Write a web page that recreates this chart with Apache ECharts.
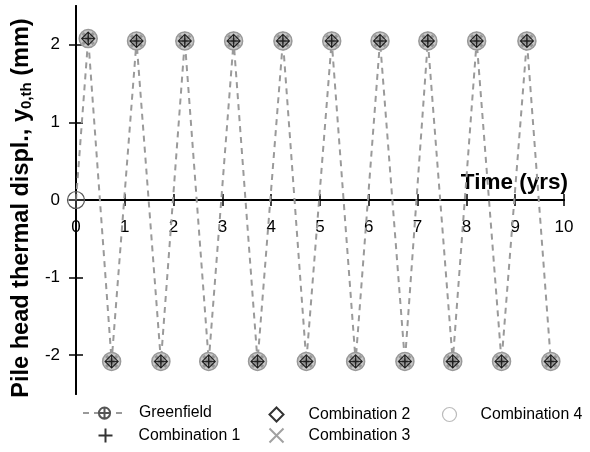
<!DOCTYPE html>
<html><head><meta charset="utf-8">
<script src="https://cdn.jsdelivr.net/npm/echarts@6/dist/echarts.min.js"></script>
<style>html,body{margin:0;padding:0;background:#fff}#c{width:590px;height:452px}</style>
</head><body><div id="c"></div>
<script>
// ---- data ----
const timeYrs = [0, 0.25, 0.73, 1.24, 1.74, 2.23, 2.72, 3.23, 3.72, 4.24, 4.72, 5.24, 5.73, 6.23, 6.74, 7.21, 7.72, 8.21, 8.72, 9.24, 9.73];
const greenfield = [0, 2.08, -2.08, 2.05, -2.08, 2.05, -2.08, 2.05, -2.08, 2.05, -2.08, 2.05, -2.08, 2.05, -2.08, 2.05, -2.08, 2.05, -2.08, 2.05, -2.08];
const combination1 = greenfield.slice(1);
const combination2 = greenfield.slice(1);
const combination3 = greenfield.slice(1);
const combination4 = greenfield.slice(1);
const comboTime = timeYrs.slice(1);
const xTicks = [0, 1, 2, 3, 4, 5, 6, 7, 8, 9, 10];
const yTicks = [-2, -1, 0, 1, 2];

const pair = (xs, ys) => xs.map((x, i) => [x, ys[i]]);
const FONT = 'Liberation Sans, Arial, sans-serif';
const oplus = 'path://M10,0A10,10,0,1,1,9.99,0ZM0,10L20,10M10,0L10,20';
const plus = 'path://M10,0L10,20M0,10L20,10';
const cross = 'path://M0,0L20,20M20,0L0,20';
const diamond = 'path://M10,0L20,10L10,20L0,10Z';

const chart = echarts.init(document.getElementById('c'));
const GRID_TOP = 6, GRID_BOTTOM = 58, H = 452;
const zeroOffset = -((H - GRID_TOP - GRID_BOTTOM) / 2); // x axis drawn at y = 0
const xBase = {
  type: 'value', min: 0, max: 10, interval: 1, position: 'bottom', offset: zeroOffset,
  axisLine: { onZero: false, lineStyle: { color: '#000', width: 2 } },
  splitLine: { show: false }
};
const yBase = {
  type: 'value', min: -2.5, max: 2.5, interval: 0.5, position: 'left',
  axisLine: { onZero: false, lineStyle: { color: '#000', width: 2 } },
  splitLine: { show: false }
};
const mkLegend = (left, top, itemWidth, gap, item) => ({
  orient: 'horizontal', left, top, itemWidth, itemHeight: 14, itemGap: 0, padding: 0,
  textStyle: { fontFamily: FONT, fontSize: 15.8, color: '#000', rich: {
    g: { width: gap }, t: { fontFamily: FONT, fontSize: 15.8, color: '#000' } } },
  formatter: n => '{g|}{t|' + n + '}',
  selectedMode: false,
  data: [item]
});
chart.setOption({
  animation: false,
  backgroundColor: '#fff',
  grid: { left: 76, right: 26, top: GRID_TOP, bottom: GRID_BOTTOM, containLabel: false },
  xAxis: [
    Object.assign({}, xBase, {
      axisTick: { show: true, length: 6, customValues: xTicks, lineStyle: { color: '#000', width: 1.5 } },
      axisLabel: { fontFamily: FONT, fontSize: 17, color: '#000', margin: 19, customValues: xTicks },
      name: 'Time (yrs)', nameLocation: 'end', nameGap: 0,
      nameTextStyle: { fontFamily: FONT, fontSize: 22.5, fontWeight: 'bold', color: '#000',
        align: 'right', verticalAlign: 'bottom', padding: [0, -4, 6, 0] }
    }),
    Object.assign({}, xBase, {
      axisTick: { show: true, inside: true, length: 6, customValues: xTicks, lineStyle: { color: '#000', width: 1.5 } },
      axisLabel: { show: false }
    })
  ],
  yAxis: [
    Object.assign({}, yBase, {
      axisTick: { show: true, length: 7, customValues: yTicks, lineStyle: { color: '#000', width: 1.5 } },
      axisLabel: { fontFamily: FONT, fontSize: 17, color: '#000', margin: 16, customValues: yTicks },
      name: '{m|Pile head thermal displ., y}{s|0,th}{m| (mm)}',
      nameLocation: 'middle', nameRotate: 90, nameGap: 41,
      nameTextStyle: { padding: [0, 16, 0, 0], rich: {
        m: { fontFamily: FONT, fontSize: 23.5, fontWeight: 'bold', color: '#000' },
        s: { fontFamily: FONT, fontSize: 15, fontWeight: 'bold', color: '#000', verticalAlign: 'bottom', padding: [9, 0, 0, 0] }
      } }
    }),
    Object.assign({}, yBase, {
      axisTick: { show: true, inside: true, length: 7, customValues: yTicks, lineStyle: { color: '#000', width: 1.5 } },
      axisLabel: { show: false }
    })
  ],
  legend: [
    mkLegend(82, 405, 43, 8, 'Greenfield'),
    mkLegend(96, 426, 14, 21, 'Combination 1'),
    mkLegend(267, 405, 14, 20, 'Combination 2'),
    mkLegend(267, 426, 14, 20, 'Combination 3'),
    mkLegend(440, 405, 14, 19, { name: 'Combination 4', itemStyle: { color: 'none', borderColor: '#bbb', borderWidth: 1.2 } })
  ],
  series: [
    { name: 'Combination 4', type: 'scatter', data: pair(comboTime, combination4),
      symbol: 'circle', symbolSize: 18, z: 2,
      itemStyle: { color: '#c8c8c8', borderColor: '#999', borderWidth: 1.5, opacity: 1 } },
    { name: 'Combination 3', type: 'scatter', data: pair(comboTime, combination3),
      symbol: cross, symbolSize: 11, z: 3,
      itemStyle: { color: 'none', borderColor: '#8a8a8a', borderWidth: 3 } },
    { name: 'Combination 2', type: 'scatter', data: pair(comboTime, combination2),
      symbol: diamond, symbolSize: 13, z: 4,
      itemStyle: { color: 'none', borderColor: '#000', borderWidth: 1.2 } },
    { name: 'Combination 1', type: 'scatter', data: pair(comboTime, combination1),
      symbol: plus, symbolSize: 12, z: 5,
      itemStyle: { color: 'none', borderColor: '#000', borderWidth: 1.5 } },
    { name: 'Greenfield', type: 'line', data: pair(timeYrs, greenfield),
      symbol: oplus, symbolSize: 17, showSymbol: true, z: 1,
      lineStyle: { color: '#9a9a9a', width: 2, type: [6, 5] },
      itemStyle: { color: 'none', borderColor: '#555', borderWidth: 1.2 } }
  ]
});
</script></body></html>
